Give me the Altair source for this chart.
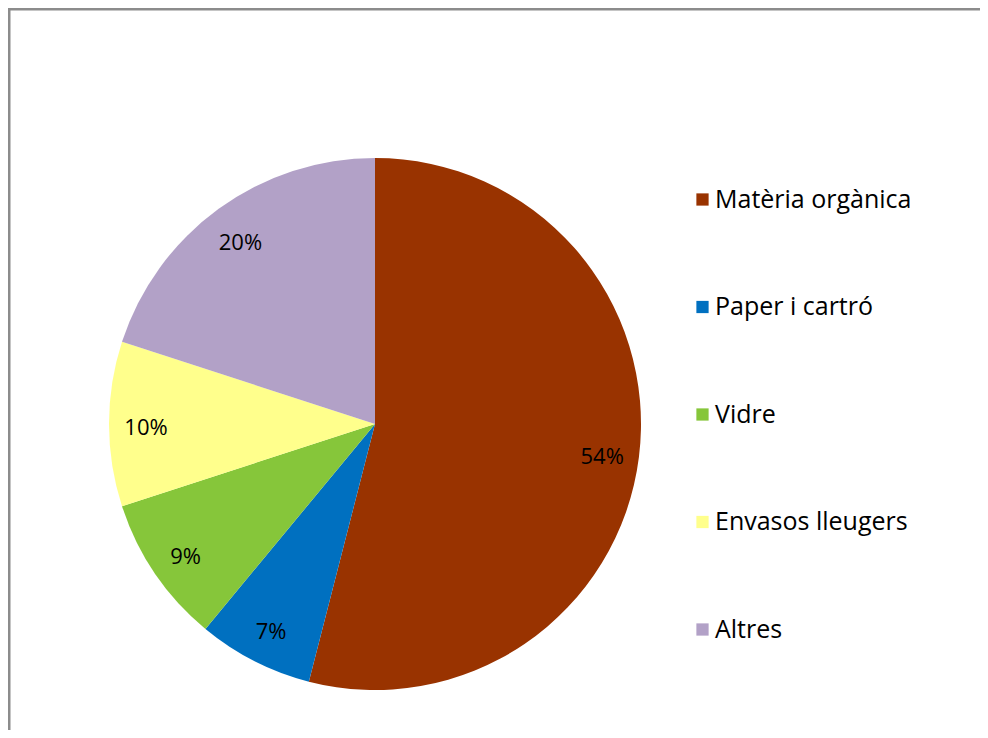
import altair as alt
import pandas as pd

categories = ["Matèria orgànica", "Paper i cartró", "Vidre", "Envasos lleugers", "Altres"]
values = [54, 7, 9, 10, 20]
labels = ["54%", "7%", "9%", "10%", "20%"]
colors = ["#993300", "#0070C0", "#86C63A", "#FFFF8C", "#B2A1C7"]

df = pd.DataFrame({"cat": categories, "val": values, "lab": labels, "order": list(range(len(values)))})

W, H = 972, 722
CX, CY = 367, 416

base = alt.Chart(df).encode(
    theta=alt.Theta("val:Q", stack=True),
    order=alt.Order("order:Q"),
)

arcs = base.mark_arc(radius=266, stroke=None).encode(
    x=alt.value(CX),
    y=alt.value(CY),
    color=alt.Color(
        "cat:N",
        sort=categories,
        scale=alt.Scale(domain=categories, range=colors),
        legend=alt.Legend(
            title=None,
            orient="none",
            legendX=682,
            legendY=179,
            symbolType="square",
            symbolSize=150,
            symbolStrokeWidth=0,
            labelFont="Open Sans",
            labelFontSize=25,
            labelColor="#000000",
            labelOffset=0,
            rowPadding=81.5,
            labelLimit=400,
        ),
    ),
)

texts = base.mark_text(radius=229, font="Open Sans", fontSize=22, color="#000000", dy=4).encode(
    x=alt.value(CX),
    y=alt.value(CY),
    text="lab:N",
)

frame_top = alt.Chart(pd.DataFrame({"a": [0]})).mark_rule(color="#8c8c8c", strokeWidth=3).encode(
    x=alt.value(0), x2=alt.value(W), y=alt.value(1)
)
frame_left = alt.Chart(pd.DataFrame({"a": [0]})).mark_rule(color="#8c8c8c", strokeWidth=3).encode(
    x=alt.value(1), y=alt.value(0), y2=alt.value(H)
)

chart = alt.layer(arcs, texts, frame_top, frame_left).properties(
    width=W, height=H, padding=0, autosize=alt.AutoSizeParams(type="none")
).configure_view(stroke=None)

chart.save("out.html", embed_options={"renderer": "svg", "actions": False})
